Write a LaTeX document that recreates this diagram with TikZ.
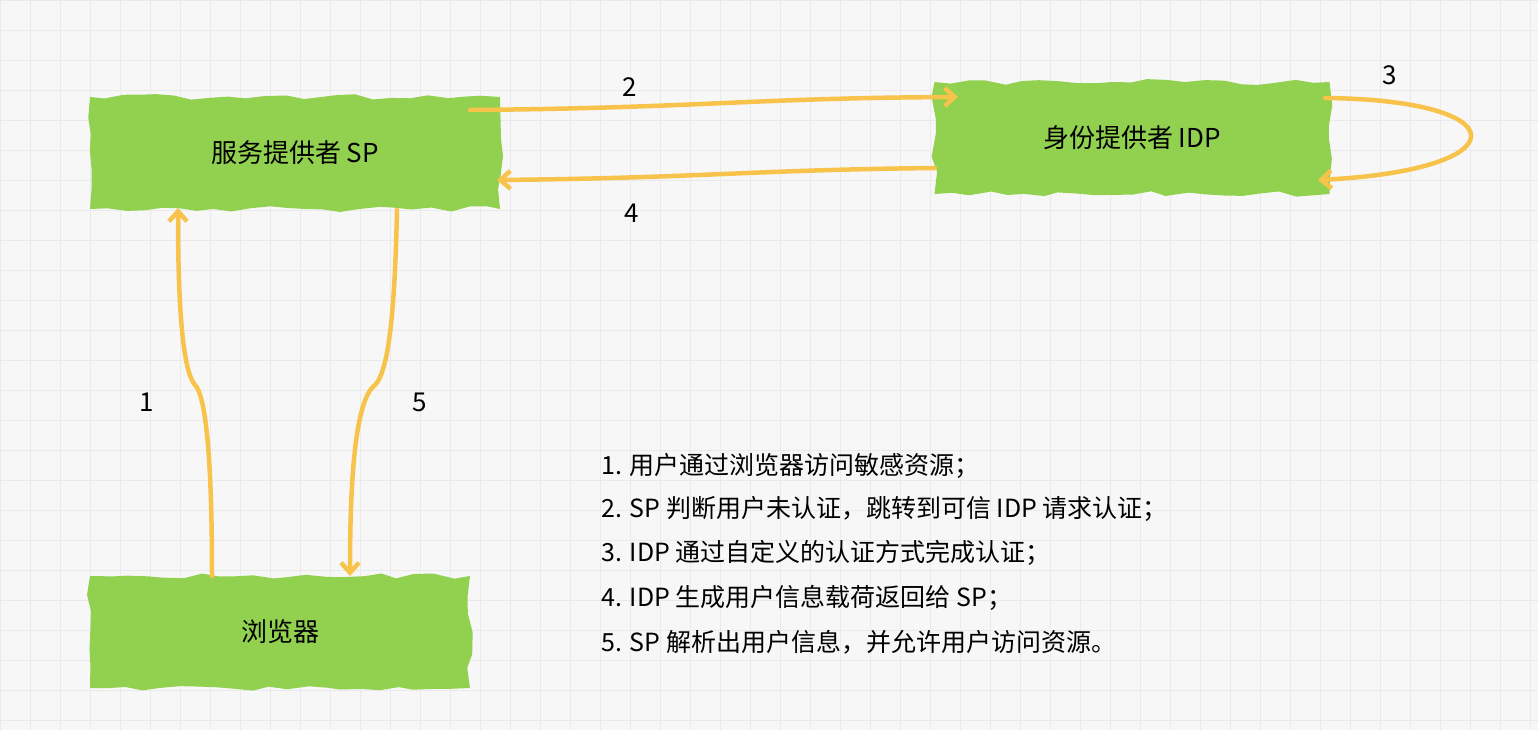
\documentclass[tikz,border=0pt]{standalone}
\usepackage{fontspec}
\newfontfamily\cjk{Noto Sans CJK SC}
\newfontfamily\cjkb{Noto Sans CJK SC Bold}
\usetikzlibrary{arrows.meta,decorations.pathmorphing}
\definecolor{bg}{HTML}{F7F7F7}
\definecolor{gridc}{HTML}{EAEAEA}
\definecolor{gr}{HTML}{92D050}
\definecolor{ar}{HTML}{F7C34A}
\begin{document}
\begin{tikzpicture}[x=1pt,y=-1pt,
  box/.style={fill=gr,minimum width=#1,minimum height=112pt,font=\cjk\fontsize{26}{30}\selectfont,
    decorate,decoration={random steps,segment length=18pt,amplitude=3pt}},
  flow/.style={draw=ar,line width=4.5pt,line cap=round,-{Straight Barb[length=10pt,width=18pt]}},
  lbl/.style={font=\cjk\fontsize{26}{30}\selectfont},
  txt/.style={font=\cjk\fontsize{25}{30}\selectfont,anchor=west}]
\fill[bg] (0,0) rectangle (1538,730);
\useasboundingbox (0,0) rectangle (1538,730);
\foreach \x in {0,30,...,1538} \draw[gridc,line width=0.6pt] (\x,0) -- (\x,730);
\foreach \y in {0,30,...,730} \draw[gridc,line width=0.6pt] (0,\y) -- (1538,\y);
\node[box=410pt] (sp) at (295,153) {服务提供者 SP};
\node[box=395pt] (idp) at (1132,138) {身份提供者 IDP};
\node[box=380pt] (br) at (280,632) {浏览器};
\coordinate (a2s) at (470,110);
\coordinate (a2e) at (958,97);
\draw[flow] (a2s) .. controls (700,108) and (750,98) .. (a2e);
\coordinate (a4s) at (935,168);
\coordinate (a4e) at (497,180);
\draw[flow] (a4s) .. controls (750,170) and (700,178) .. (a4e);
\coordinate (a3s) at (1325,98);
\coordinate (a3e) at (1318,180);
\draw[flow] (a3s) .. controls (1520,100) and (1520,170) .. (a3e);
\coordinate (a1s) at (212,576);
\coordinate (a1e) at (178,208);
\draw[flow] (a1s) .. controls (212,450) and (205,395) .. (195,385) .. controls (182,370) and (178,300) .. (a1e);
\coordinate (a5s) at (397,210);
\coordinate (a5e) at (350,576);
\draw[flow] (a5s) .. controls (395,300) and (390,370) .. (375,385) .. controls (355,400) and (350,480) .. (a5e);
\node[lbl] (l2) at (630,87) {2};
\node[lbl] (l4) at (632,213) {4};
\node[lbl] (l3) at (1390,75) {3};
\node[lbl] (l1) at (147,402) {1};
\node[lbl] (l5) at (420,402) {5};
\node[txt] (t1) at (598,466) {1. 用户通过浏览器访问敏感资源；};
\node[txt] (t2) at (598,509) {2. SP 判断用户未认证，跳转到可信 IDP 请求认证；};
\node[txt] (t3) at (598,553) {3. IDP 通过自定义的认证方式完成认证；};
\node[txt] (t4) at (598,598) {4. IDP 生成用户信息载荷返回给 SP；};
\node[txt] (t5) at (598,642) {5. SP 解析出用户信息，并允许用户访问资源。};
\end{tikzpicture}
\end{document}
